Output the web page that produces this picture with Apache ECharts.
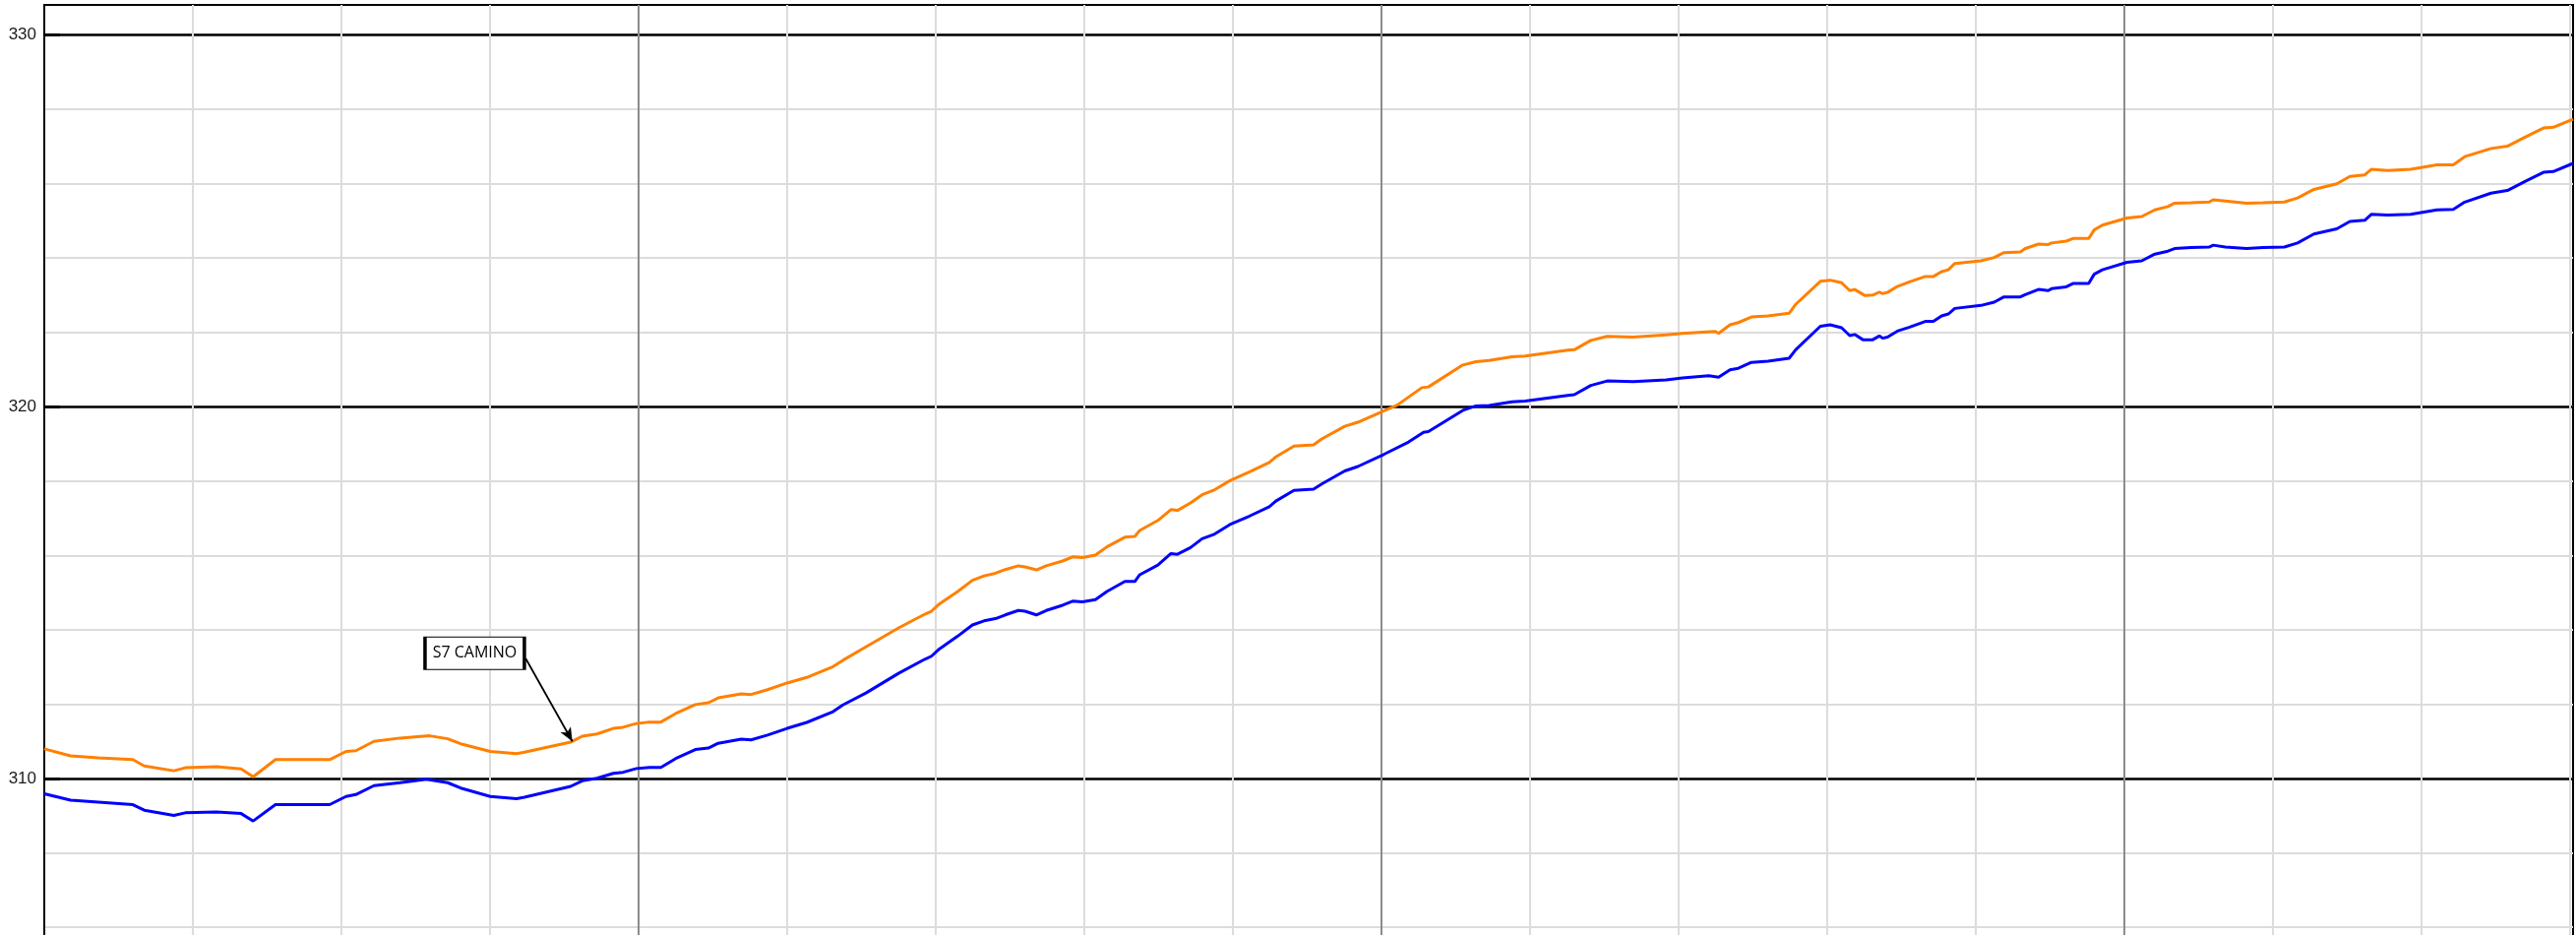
<!DOCTYPE html>
<html>
<head>
<meta charset="utf-8">
<script src="https://cdn.jsdelivr.net/npm/echarts@6/dist/echarts.min.js"></script>
<style>
html,body{margin:0;padding:0;background:#fff;overflow:hidden;width:2618px;height:950px;}
#chart{width:2618px;height:1169px;}
</style>
</head>
<body>
<div id="chart"></div>
<script>
// distance along profile (minor grid units) and elevations
const distOrange = [0,0.177,0.364,0.596,0.673,0.872,0.949,1.159,1.325,1.406,1.556,1.921,2.031,2.097,2.219,2.395,2.594,2.715,2.815,3.002,3.179,3.232,3.543,3.621,3.720,3.830,3.896,3.985,4.073,4.150,4.250,4.382,4.470,4.536,4.691,4.757,4.868,5.000,5.132,5.309,5.375,5.530,5.750,5.927,5.971,6.026,6.148,6.247,6.325,6.402,6.468,6.556,6.601,6.677,6.744,6.854,6.921,6.987,7.075,7.152,7.273,7.340,7.373,7.495,7.583,7.627,7.715,7.793,7.870,7.980,8.113,8.245,8.289,8.411,8.543,8.598,8.753,8.841,9.018,9.106,9.272,9.316,9.548,9.636,9.724,9.879,9.967,10.254,10.298,10.409,10.519,10.695,10.916,11.026,11.247,11.269,11.346,11.402,11.490,11.601,11.744,11.788,11.954,12.020,12.097,12.152,12.185,12.252,12.307,12.351,12.373,12.406,12.472,12.550,12.660,12.715,12.770,12.815,12.859,13.035,13.124,13.190,13.300,13.333,13.422,13.488,13.510,13.609,13.654,13.760,13.797,13.852,14.018,14.117,14.205,14.293,14.338,14.448,14.570,14.598,14.680,14.823,14.934,15.077,15.166,15.276,15.430,15.518,15.618,15.662,15.773,15.927,16.104,16.214,16.291,16.468,16.578,16.700,16.821,16.887,17.020];
const elevOrange = [310.80,310.61,310.56,310.51,310.34,310.21,310.29,310.32,310.26,310.05,310.51,310.51,310.73,310.75,311.00,311.09,311.15,311.07,310.92,310.73,310.67,310.71,310.98,311.14,311.20,311.35,311.38,311.48,311.52,311.52,311.75,311.99,312.04,312.17,312.28,312.26,312.39,312.57,312.72,313.01,313.18,313.54,314.05,314.42,314.50,314.70,315.03,315.33,315.45,315.52,315.62,315.72,315.69,315.61,315.72,315.85,315.96,315.94,316.01,316.23,316.49,316.51,316.67,316.94,317.23,317.21,317.41,317.63,317.75,318.01,318.25,318.50,318.65,318.94,318.97,319.13,319.47,319.58,319.89,320.04,320.51,320.53,321.12,321.21,321.24,321.34,321.36,321.52,321.53,321.78,321.89,321.87,321.93,321.97,322.02,321.97,322.20,322.26,322.41,322.44,322.51,322.75,323.37,323.40,323.33,323.12,323.15,322.99,323.00,323.08,323.04,323.07,323.23,323.35,323.50,323.50,323.63,323.68,323.85,323.92,324.01,324.14,324.16,324.25,324.37,324.36,324.40,324.45,324.52,324.52,324.75,324.88,325.07,325.11,325.29,325.38,325.47,325.48,325.50,325.56,325.53,325.47,325.48,325.50,325.61,325.84,325.99,326.19,326.23,326.38,326.35,326.38,326.50,326.50,326.72,326.94,327.00,327.25,327.49,327.51,327.73];

const distBlue = [0,0.177,0.364,0.596,0.673,0.872,0.949,1.159,1.325,1.406,1.556,1.921,2.031,2.097,2.219,2.395,2.572,2.715,2.815,3.002,3.179,3.232,3.543,3.621,3.720,3.830,3.896,3.985,4.073,4.150,4.250,4.382,4.470,4.536,4.691,4.757,4.868,5.000,5.132,5.309,5.375,5.530,5.750,5.927,5.971,6.026,6.148,6.247,6.325,6.402,6.468,6.556,6.601,6.677,6.744,6.854,6.921,6.987,7.075,7.152,7.273,7.340,7.373,7.495,7.583,7.627,7.715,7.793,7.870,7.980,8.113,8.245,8.289,8.411,8.543,8.598,8.753,8.841,9.018,9.183,9.283,9.316,9.548,9.636,9.724,9.879,9.967,10.254,10.298,10.409,10.519,10.695,10.916,11.026,11.203,11.269,11.346,11.402,11.490,11.601,11.744,11.788,11.954,12.020,12.097,12.152,12.185,12.240,12.307,12.351,12.373,12.406,12.472,12.550,12.660,12.715,12.770,12.815,12.859,13.035,13.124,13.190,13.300,13.333,13.422,13.488,13.510,13.609,13.654,13.760,13.797,13.852,14.018,14.117,14.205,14.293,14.338,14.448,14.570,14.598,14.680,14.823,14.934,15.077,15.166,15.276,15.430,15.518,15.618,15.662,15.773,15.927,16.104,16.214,16.291,16.468,16.578,16.700,16.821,16.887,17.020];
const elevBlue = [309.59,309.42,309.37,309.30,309.15,309.01,309.08,309.10,309.06,308.86,309.30,309.30,309.52,309.57,309.81,309.89,309.98,309.89,309.73,309.52,309.46,309.50,309.79,309.94,310.01,310.14,310.17,310.27,310.30,310.30,310.54,310.78,310.82,310.95,311.06,311.04,311.17,311.35,311.51,311.80,311.98,312.30,312.83,313.21,313.29,313.49,313.83,314.13,314.24,314.30,314.40,314.52,314.50,314.40,314.52,314.66,314.77,314.75,314.81,315.03,315.30,315.30,315.48,315.74,316.05,316.03,316.21,316.45,316.56,316.83,317.06,317.31,317.46,317.75,317.78,317.92,318.27,318.39,318.72,319.05,319.31,319.33,319.90,320.02,320.03,320.13,320.15,320.30,320.32,320.57,320.69,320.67,320.72,320.77,320.83,320.79,320.99,321.03,321.19,321.22,321.30,321.53,322.16,322.20,322.12,321.91,321.94,321.80,321.80,321.90,321.84,321.87,322.03,322.13,322.29,322.29,322.44,322.49,322.64,322.72,322.81,322.95,322.95,323.01,323.15,323.12,323.17,323.22,323.31,323.31,323.56,323.68,323.88,323.92,324.10,324.18,324.25,324.28,324.29,324.34,324.29,324.25,324.28,324.29,324.40,324.64,324.78,324.98,325.01,325.17,325.15,325.17,325.29,325.30,325.50,325.74,325.81,326.06,326.30,326.32,326.54];

// annotation (data units)
const noteText = 'S7 CAMINO';
const noteBoxAt = [2.897, 313.37];
const noteArrowFrom = [3.240, 313.23];
const noteArrowTo = [3.554, 311.00];

const xMin = 0, xMax = 17.02;
const yMin = 300, yMax = 330.8;

const zip = (a, b) => a.map((v, i) => [v, b[i]]);

const chart = echarts.init(document.getElementById('chart'), null, {renderer: 'canvas'});

chart.setOption({
  animation: false,
  backgroundColor: '#ffffff',
  grid: {
    left: 45, right: 3, top: 5, bottom: 0,
    containLabel: false, outerBoundsMode: 'none',
    show: true, borderColor: '#000', borderWidth: 2, backgroundColor: 'transparent'
  },
  xAxis: [{
    type: 'value', min: xMin, max: xMax, interval: 1,
    axisLine: {show: false}, axisTick: {show: false}, axisLabel: {show: false},
    splitLine: {show: true, showMinLine: false, showMaxLine: false,
      lineStyle: {color: ['#dcdcdc','#dcdcdc','#dcdcdc','#8c8c8c','#dcdcdc'], width: 2}}
  }],
  yAxis: [{
    type: 'value', min: yMin, max: yMax, interval: 2,
    axisLine: {show: false}, axisTick: {show: false}, axisLabel: {show: false},
    splitLine: {show: true, showMaxLine: false, lineStyle: {color: '#dcdcdc', width: 2}}
  }, {
    type: 'value', position: 'left', min: yMin, max: yMax, interval: 10,
    axisLine: {show: true, lineStyle: {color: '#000', width: 2}},
    axisTick: {show: true, inside: true, length: 16, lineStyle: {color: '#000', width: 3}},
    axisLabel: {show: true, showMinLabel: false, showMaxLabel: false, margin: 8, color: '#1a1a1a', fontSize: 17,
      fontFamily: 'Liberation Sans, Arial, sans-serif',
      formatter: v => (Math.abs(v % 10) < 1e-6 ? String(v) : '')},
    splitLine: {show: true, showMaxLine: false, lineStyle: {color: '#000', width: 2.5}}
  }],
  series: [{
    name: 'Orange', type: 'line', data: zip(distOrange, elevOrange),
    showSymbol: false, symbol: 'none', smooth: false, z: 3,
    lineStyle: {color: '#ff8000', width: 3},
    markPoint: {
      silent: true, symbol: 'rect', symbolSize: [101, 33],
      itemStyle: {color: '#fff', borderColor: '#000', borderWidth: 2},
      label: {show: true, position: 'inside', formatter: noteText, color: '#000',
        fontSize: 16, fontFamily: 'Open Sans, Noto Sans, sans-serif'},
      data: [{coord: noteBoxAt}]
    },
    markLine: {
      silent: true, symbol: ['none', 'arrow'], symbolSize: [9, 14],
      label: {show: false},
      lineStyle: {color: '#000', width: 1.8, type: 'solid'},
      data: [[{coord: noteArrowFrom}, {coord: noteArrowTo}]]
    }
  }, {
    name: 'Blue', type: 'line', data: zip(distBlue, elevBlue),
    showSymbol: false, symbol: 'none', smooth: false, z: 2,
    lineStyle: {color: '#0000ff', width: 3}
  }]
});
</script>
</body>
</html>
